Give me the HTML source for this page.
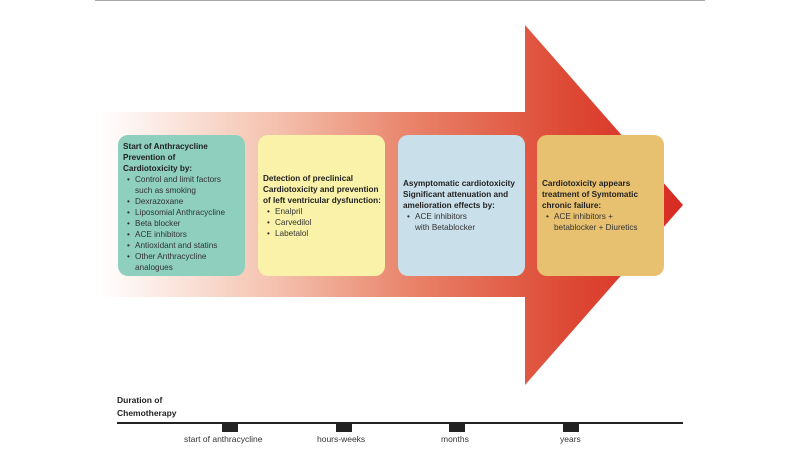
<!DOCTYPE html>
<html><head><style>
body{margin:0;width:800px;height:450px;background:#fff;position:relative;overflow:hidden;font-family:"Liberation Sans",sans-serif;}
.box{position:absolute;top:135px;width:127px;height:141px;border-radius:10px;box-sizing:border-box;padding:0 4px 0 5px;font-size:8.2px;line-height:11px;color:#333;display:flex;flex-direction:column;justify-content:center;}
.box b{color:#222;}
.box ul{margin:0;padding:0;list-style:none;}
.box li{padding-left:12px;text-indent:-8px;}
.box li:before{content:"•";display:inline-block;width:8px;text-indent:0;}
.lbl{position:absolute;top:434px;font-size:8.5px;color:#333;}
.tick{position:absolute;top:423px;width:16px;height:9px;background:#222;}
</style></head><body>
<div style="position:absolute;left:95px;top:0;width:610px;height:1px;background:#aaa"></div>
<svg width="800" height="450" style="position:absolute;left:0;top:0">
<defs><linearGradient id="g" x1="100" y1="0" x2="683" y2="0" gradientUnits="userSpaceOnUse">
<stop offset="0" stop-color="#fff"/><stop offset="0.3" stop-color="#f4c2ae"/><stop offset="0.55" stop-color="#e87f66"/><stop offset="0.8" stop-color="#dd4a35"/><stop offset="1" stop-color="#d82a22"/></linearGradient></defs>
<polygon points="100,112 525,112 525,25 683,205 525,385 525,297 100,297" fill="url(#g)"/>
<line x1="117" y1="423" x2="683" y2="423" stroke="#222" stroke-width="2"/>
</svg>
<div class="box" style="left:118px;background:#8ecfbd;justify-content:flex-start;padding-top:6px;padding-right:18px"><b>Start of Anthracycline Prevention of<br>Cardiotoxicity by:</b><ul><li>Control and limit factors such as smoking</li><li>Dexrazoxane</li><li>Liposomial Anthracycline</li><li>Beta blocker</li><li>ACE inhibitors</li><li>Antioxidant and statins</li><li>Other Anthracycline analogues</li></ul></div>
<div class="box" style="left:258px;background:#f9f2a8"><b>Detection of preclinical Cardiotoxicity and prevention of left ventricular dysfunction:</b><ul><li>Enalpril</li><li>Carvedilol</li><li>Labetalol</li></ul></div>
<div class="box" style="left:398px;background:#c9dfea"><b>Asymptomatic cardiotoxicity Significant attenuation and amelioration effects by:</b><ul><li>ACE inhibitors<br>with Betablocker</li></ul></div>
<div class="box" style="left:537px;background:#e8c170"><b>Cardiotoxicity appears treatment of Symtomatic chronic failure:</b><ul><li>ACE inhibitors +<br>betablocker + Diuretics</li></ul></div>
<div style="position:absolute;left:117px;top:394px;font-size:8.5px;line-height:13px;font-weight:bold;color:#222">Duration of<br>Chemotherapy</div>
<div class="tick" style="left:222px"></div><div class="tick" style="left:336px"></div><div class="tick" style="left:449px"></div><div class="tick" style="left:563px"></div>
<div class="lbl" style="left:184px">start of anthracycline</div>
<div class="lbl" style="left:317px">hours-weeks</div>
<div class="lbl" style="left:441px">months</div>
<div class="lbl" style="left:560px">years</div>
</body></html>
